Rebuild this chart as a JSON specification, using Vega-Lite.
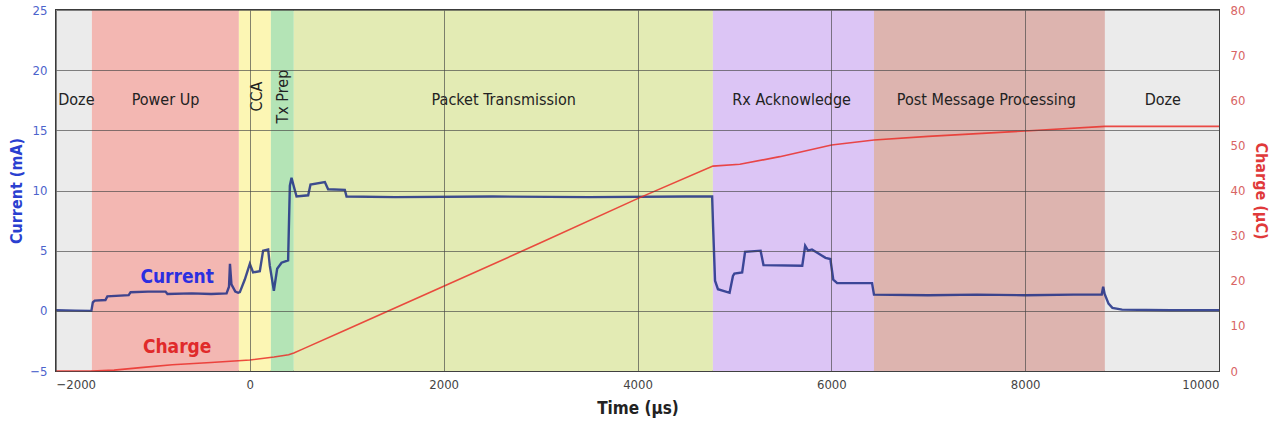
{
  "$schema": "https://vega.github.io/schema/vega-lite/v6.json",
  "width": 1163,
  "height": 361,
  "autosize": "none",
  "padding": {"left": 56, "top": 10, "right": 57, "bottom": 58},
  "background": "white",
  "config": {
    "view": {"stroke": "#3a3a3a", "strokeWidth": 2},
    "font": "DejaVu Sans Condensed",
    "text": {"font": "DejaVu Sans Condensed"},
    "axis": {"labelFont": "DejaVu Sans Condensed", "titleFont": "DejaVu Sans Condensed"}
  },
  "datasets": {
    "phases": [
      {"phase": "Doze", "t": -2000, "end": -1630},
      {"phase": "Power Up", "t": -1630, "end": -113},
      {"phase": "CCA", "t": -113, "end": 217},
      {"phase": "Tx Prep", "t": 217, "end": 454},
      {"phase": "Packet Transmission", "t": 454, "end": 4778},
      {"phase": "Rx Acknowledge", "t": 4778, "end": 6440},
      {"phase": "Post Message Processing", "t": 6440, "end": 8823},
      {"phase": "Doze", "t": 8823, "end": 10000}
    ],
    "hlabels": [
      {"label": "Doze", "t": -1790},
      {"label": "Power Up", "t": -870},
      {"label": "Packet Transmission", "t": 2620},
      {"label": "Rx Acknowledge", "t": 5590},
      {"label": "Post Message Processing", "t": 7600},
      {"label": "Doze", "t": 9420}
    ],
    "vlabels": [
      {"label": "CCA", "t": 75},
      {"label": "Tx Prep", "t": 340}
    ],
    "current": [
      {"t": -2000, "mA": 0.05}, {"t": -1800, "mA": 0.02}, {"t": -1635, "mA": 0.0},
      {"t": -1620, "mA": 0.7}, {"t": -1600, "mA": 0.85}, {"t": -1490, "mA": 0.9},
      {"t": -1470, "mA": 1.2}, {"t": -1250, "mA": 1.3}, {"t": -1230, "mA": 1.55},
      {"t": -1050, "mA": 1.6}, {"t": -870, "mA": 1.6}, {"t": -850, "mA": 1.4},
      {"t": -600, "mA": 1.45}, {"t": -400, "mA": 1.4}, {"t": -240, "mA": 1.45},
      {"t": -215, "mA": 2.0}, {"t": -205, "mA": 3.9}, {"t": -190, "mA": 2.2},
      {"t": -150, "mA": 1.6}, {"t": -120, "mA": 1.5}, {"t": -103, "mA": 1.55},
      {"t": -52, "mA": 2.6}, {"t": 0, "mA": 3.9}, {"t": 34, "mA": 3.2},
      {"t": 103, "mA": 3.3}, {"t": 137, "mA": 5.0}, {"t": 189, "mA": 5.1},
      {"t": 206, "mA": 3.75}, {"t": 248, "mA": 1.67}, {"t": 282, "mA": 3.5},
      {"t": 327, "mA": 4.0}, {"t": 395, "mA": 4.2}, {"t": 413, "mA": 10.4},
      {"t": 430, "mA": 11.05}, {"t": 482, "mA": 9.5}, {"t": 602, "mA": 9.6},
      {"t": 626, "mA": 10.5}, {"t": 774, "mA": 10.7}, {"t": 808, "mA": 10.1},
      {"t": 980, "mA": 10.05}, {"t": 998, "mA": 9.5}, {"t": 1500, "mA": 9.45},
      {"t": 2500, "mA": 9.5}, {"t": 3500, "mA": 9.45}, {"t": 4500, "mA": 9.5},
      {"t": 4770, "mA": 9.5}, {"t": 4780, "mA": 7.0}, {"t": 4800, "mA": 2.5},
      {"t": 4830, "mA": 1.8}, {"t": 4950, "mA": 1.5}, {"t": 4985, "mA": 2.9},
      {"t": 5000, "mA": 3.1}, {"t": 5080, "mA": 3.2}, {"t": 5110, "mA": 4.9},
      {"t": 5270, "mA": 5.0}, {"t": 5300, "mA": 3.8}, {"t": 5700, "mA": 3.75},
      {"t": 5730, "mA": 5.4}, {"t": 5760, "mA": 5.0}, {"t": 5800, "mA": 5.1},
      {"t": 5880, "mA": 4.7}, {"t": 5940, "mA": 4.4}, {"t": 5990, "mA": 4.3},
      {"t": 6020, "mA": 2.6}, {"t": 6060, "mA": 2.3}, {"t": 6420, "mA": 2.3},
      {"t": 6440, "mA": 1.35}, {"t": 7000, "mA": 1.3}, {"t": 7500, "mA": 1.35},
      {"t": 8000, "mA": 1.3}, {"t": 8500, "mA": 1.35}, {"t": 8790, "mA": 1.35},
      {"t": 8805, "mA": 2.0}, {"t": 8820, "mA": 1.4}, {"t": 8860, "mA": 0.6},
      {"t": 8900, "mA": 0.25}, {"t": 9000, "mA": 0.1}, {"t": 9500, "mA": 0.05},
      {"t": 10000, "mA": 0.05}
    ],
    "charge": [
      {"t": -2000, "uC": 0.0}, {"t": -1630, "uC": 0.0}, {"t": -1400, "uC": 0.2},
      {"t": -1100, "uC": 0.8}, {"t": -800, "uC": 1.4}, {"t": -400, "uC": 1.9},
      {"t": 0, "uC": 2.45}, {"t": 250, "uC": 3.1}, {"t": 400, "uC": 3.6},
      {"t": 454, "uC": 4.0}, {"t": 550, "uC": 4.9}, {"t": 1000, "uC": 9.2},
      {"t": 2000, "uC": 18.8}, {"t": 3000, "uC": 28.4}, {"t": 4000, "uC": 38.2},
      {"t": 4778, "uC": 45.4}, {"t": 5056, "uC": 45.8}, {"t": 5468, "uC": 47.5},
      {"t": 6002, "uC": 50.1}, {"t": 6440, "uC": 51.2}, {"t": 7000, "uC": 52.0},
      {"t": 8000, "uC": 53.2}, {"t": 8823, "uC": 54.2}, {"t": 10000, "uC": 54.2}
    ]
  },
  "encoding": {
    "x": {
      "field": "t", "type": "quantitative",
      "scale": {"domain": [-2000, 10000], "nice": false, "zero": false},
      "axis": {
        "values": [-2000, 0, 2000, 4000, 6000, 8000, 10000], "format": "d",
        "grid": true, "gridColor": "#444", "gridOpacity": 0.65, "gridWidth": 1,
        "ticks": false, "domain": false, "zindex": 1,
        "labelFontSize": 13, "labelColor": "#444", "labelPadding": 7,
        "title": "Time (µs)", "titleFontSize": 17, "titleFontWeight": "bold",
        "titleColor": "#222", "titlePadding": 9
      }
    }
  },
  "layer": [
    {
      "layer": [
        {
          "data": {"name": "phases"},
          "mark": {"type": "rect"},
          "encoding": {
            "x2": {"field": "end"},
            "color": {
              "field": "phase", "type": "nominal", "legend": null,
              "scale": {
                "domain": ["Doze", "Power Up", "CCA", "Tx Prep", "Packet Transmission", "Rx Acknowledge", "Post Message Processing"],
                "range": ["#ebebeb", "#f3b7b2", "#fcf6b4", "#b4e4b6", "#e3ebb4", "#dcc5f5", "#ddb4af"]
              }
            }
          }
        },
        {
          "data": {"name": "hlabels"},
          "mark": {"type": "text", "fontSize": 16, "color": "#222", "align": "center", "baseline": "middle"},
          "encoding": {
            "y": {"datum": 17.5, "type": "quantitative", "scale": {"domain": [-5, 25], "nice": false, "zero": false}},
            "text": {"field": "label"}
          }
        },
        {
          "data": {"name": "vlabels"},
          "mark": {"type": "text", "fontSize": 16, "color": "#222", "align": "center", "baseline": "middle", "angle": 270},
          "encoding": {
            "y": {"datum": 17.8, "type": "quantitative"},
            "text": {"field": "label"}
          }
        },
        {
          "data": {"name": "current"},
          "mark": {"type": "line", "color": "#1f2f86", "opacity": 0.85, "strokeWidth": 2.4},
          "encoding": {
            "y": {
              "field": "mA", "type": "quantitative",
              "scale": {"domain": [-5, 25], "nice": false, "zero": false},
              "axis": {
                "orient": "left", "values": [-5, 0, 5, 10, 15, 20, 25],
                "grid": true, "gridColor": "#444", "gridOpacity": 0.65, "gridWidth": 1,
                "ticks": false, "domain": false, "zindex": 1,
                "labelFontSize": 13, "labelColor": "#4c63cc", "labelPadding": 9,
                "title": "Current (mA)", "titleFontSize": 16, "titleFontWeight": "bold",
                "titleColor": "#2a3fd0", "titlePadding": 5
              }
            }
          }
        },
        {
          "data": {"values": [{"name": "Current", "t": -750, "v": 2.85}]},
          "mark": {"type": "text", "fontSize": 19, "fontWeight": "bold", "color": "#2b2fe0", "align": "center", "baseline": "middle"},
          "encoding": {
            "y": {"field": "v", "type": "quantitative"},
            "text": {"field": "name"}
          }
        },
        {
          "data": {"values": [{"name": "Charge", "t": -750, "v": -3.0}]},
          "mark": {"type": "text", "fontSize": 19, "fontWeight": "bold", "color": "#e02a2a", "align": "center", "baseline": "middle"},
          "encoding": {
            "y": {"field": "v", "type": "quantitative"},
            "text": {"field": "name"}
          }
        }
      ]
    },
    {
      "data": {"name": "charge"},
      "mark": {"type": "line", "color": "#ea2e28", "opacity": 0.85, "strokeWidth": 1.6},
      "encoding": {
        "y": {
          "field": "uC", "type": "quantitative",
          "scale": {"domain": [0, 80], "nice": false},
          "axis": {
            "orient": "right", "values": [0, 10, 20, 30, 40, 50, 60, 70, 80],
            "grid": false, "ticks": false, "domain": false,
            "labelFontSize": 13, "labelColor": "#d86464", "labelPadding": 11,
            "title": "Charge (µC)", "titleFontSize": 16, "titleFontWeight": "bold",
            "titleColor": "#e0393a", "titlePadding": 8
          }
        }
      }
    }
  ],
  "resolve": {"scale": {"y": "independent"}}
}
